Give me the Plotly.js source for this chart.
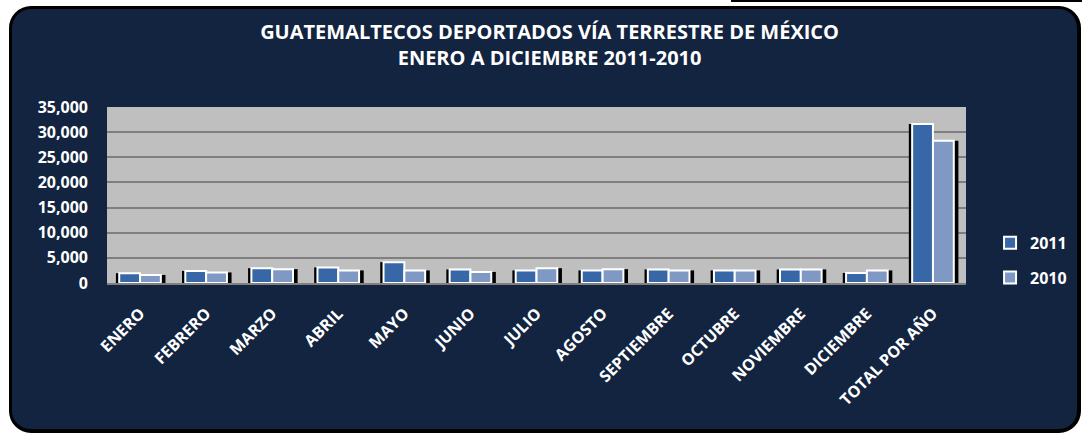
<!DOCTYPE html>
<html>
<head>
<meta charset="utf-8">
<script src="https://cdn.plot.ly/plotly-3.0.1.min.js"></script>
<style>
  html, body { margin:0; padding:0; background:#ffffff; width:1084px; height:435px; overflow:hidden; }
  #panel { position:absolute; left:9px; top:6px; width:1072px; height:427px; box-sizing:border-box;
           background:#12243f; border:3px solid #000; border-right-width:4px; border-bottom-width:4px; border-radius:22px; }
  #tab { position:absolute; left:731px; top:-10px; width:351px; height:12px; box-sizing:border-box;
         border:2px solid #000; background:#fff; }
  #tabv { position:absolute; left:894px; top:-10px; width:2px; height:12px; background:#000; }
  #chart { position:absolute; left:0; top:0; width:1084px; height:435px; }
</style>
</head>
<body>
<div id="tab"></div><div id="tabv"></div>
<div id="panel"></div>
<div id="chart"></div>
<script>
const categories = ["ENERO","FEBRERO","MARZO","ABRIL","MAYO","JUNIO","JULIO","AGOSTO","SEPTIEMBRE","OCTUBRE","NOVIEMBRE","DICIEMBRE","TOTAL POR AÑO"];
const values2011 = [1950, 2400, 2950, 3100, 4150, 2700, 2500, 2500, 2700, 2500, 2700, 2000, 31600];
const values2010 = [1600, 2100, 2750, 2500, 2500, 2200, 2950, 2750, 2500, 2500, 2700, 2500, 28300];
const yTickVals = [0, 5000, 10000, 15000, 20000, 25000, 30000, 35000];
const titleLine1 = "GUATEMALTECOS DEPORTADOS VÍA TERRESTRE DE MÉXICO";
const titleLine2 = "ENERO A DICIEMBRE 2011-2010";

const font = {family: "Open Sans, sans-serif", color: "#ffffff", weight: 700};
const W = 0.315;

const traces = [
  {type: "bar", name: "s2011", x: categories, y: values2011, showlegend: false,
   offset: -W - 0.05, width: 0.06, marker: {color: "#000000", line: {width: 0}}, hoverinfo: "skip"},
  {type: "bar", name: "s2010", x: categories, y: values2010, showlegend: false,
   offset: W - 0.01, width: 0.08, marker: {color: "#000000", line: {width: 0}}, hoverinfo: "skip"},
  {type: "bar", name: "2011", x: categories, y: values2011, legendgroup: "a",
   offset: -W, width: W,
   marker: {color: "#3767a6", line: {color: "#ffffff", width: 2}}, hoverinfo: "y"},
  {type: "bar", name: "2010", x: categories, y: values2010, legendgroup: "b",
   offset: 0, width: W,
   marker: {color: "#8099c4", line: {color: "#ffffff", width: 2}}, hoverinfo: "y"}
];

const layout = {
  width: 1084, height: 435,
  paper_bgcolor: "rgba(0,0,0,0)",
  plot_bgcolor: "#bfbfbf",
  margin: {l: 107, r: 106, t: 107, b: 152, pad: 0},
  title: {text: titleLine1 + "<br>" + titleLine2, x: 0.507, xanchor: "center",
          y: 0.91, yanchor: "top",
          font: Object.assign({}, font, {size: 20})},
  barmode: "overlay",
  xaxis: {type: "category", tickangle: -45, ticks: "", showgrid: false, zeroline: false,
          tickfont: Object.assign({}, font, {size: 16}), ticklabelstandoff: 13,
          showline: true, linecolor: "#808080", linewidth: 2},
  yaxis: {range: [0, 35000], tickvals: yTickVals, tickformat: ",", ticks: "",
          tickfont: Object.assign({}, font, {size: 16}), ticklabelstandoff: 18,
          showgrid: true, gridcolor: "#7f7f7f", gridwidth: 2, zeroline: false,
          showline: false},
  legend: {x: 1.028, xanchor: "left", y: 0.325, yanchor: "top", bgcolor: "rgba(0,0,0,0)",
           font: Object.assign({}, font, {size: 16}), tracegroupgap: 11, itemwidth: 30},
  showlegend: true
};

Plotly.newPlot("chart", traces, layout, {displayModeBar: false, staticPlot: true});
</script>
</body>
</html>
